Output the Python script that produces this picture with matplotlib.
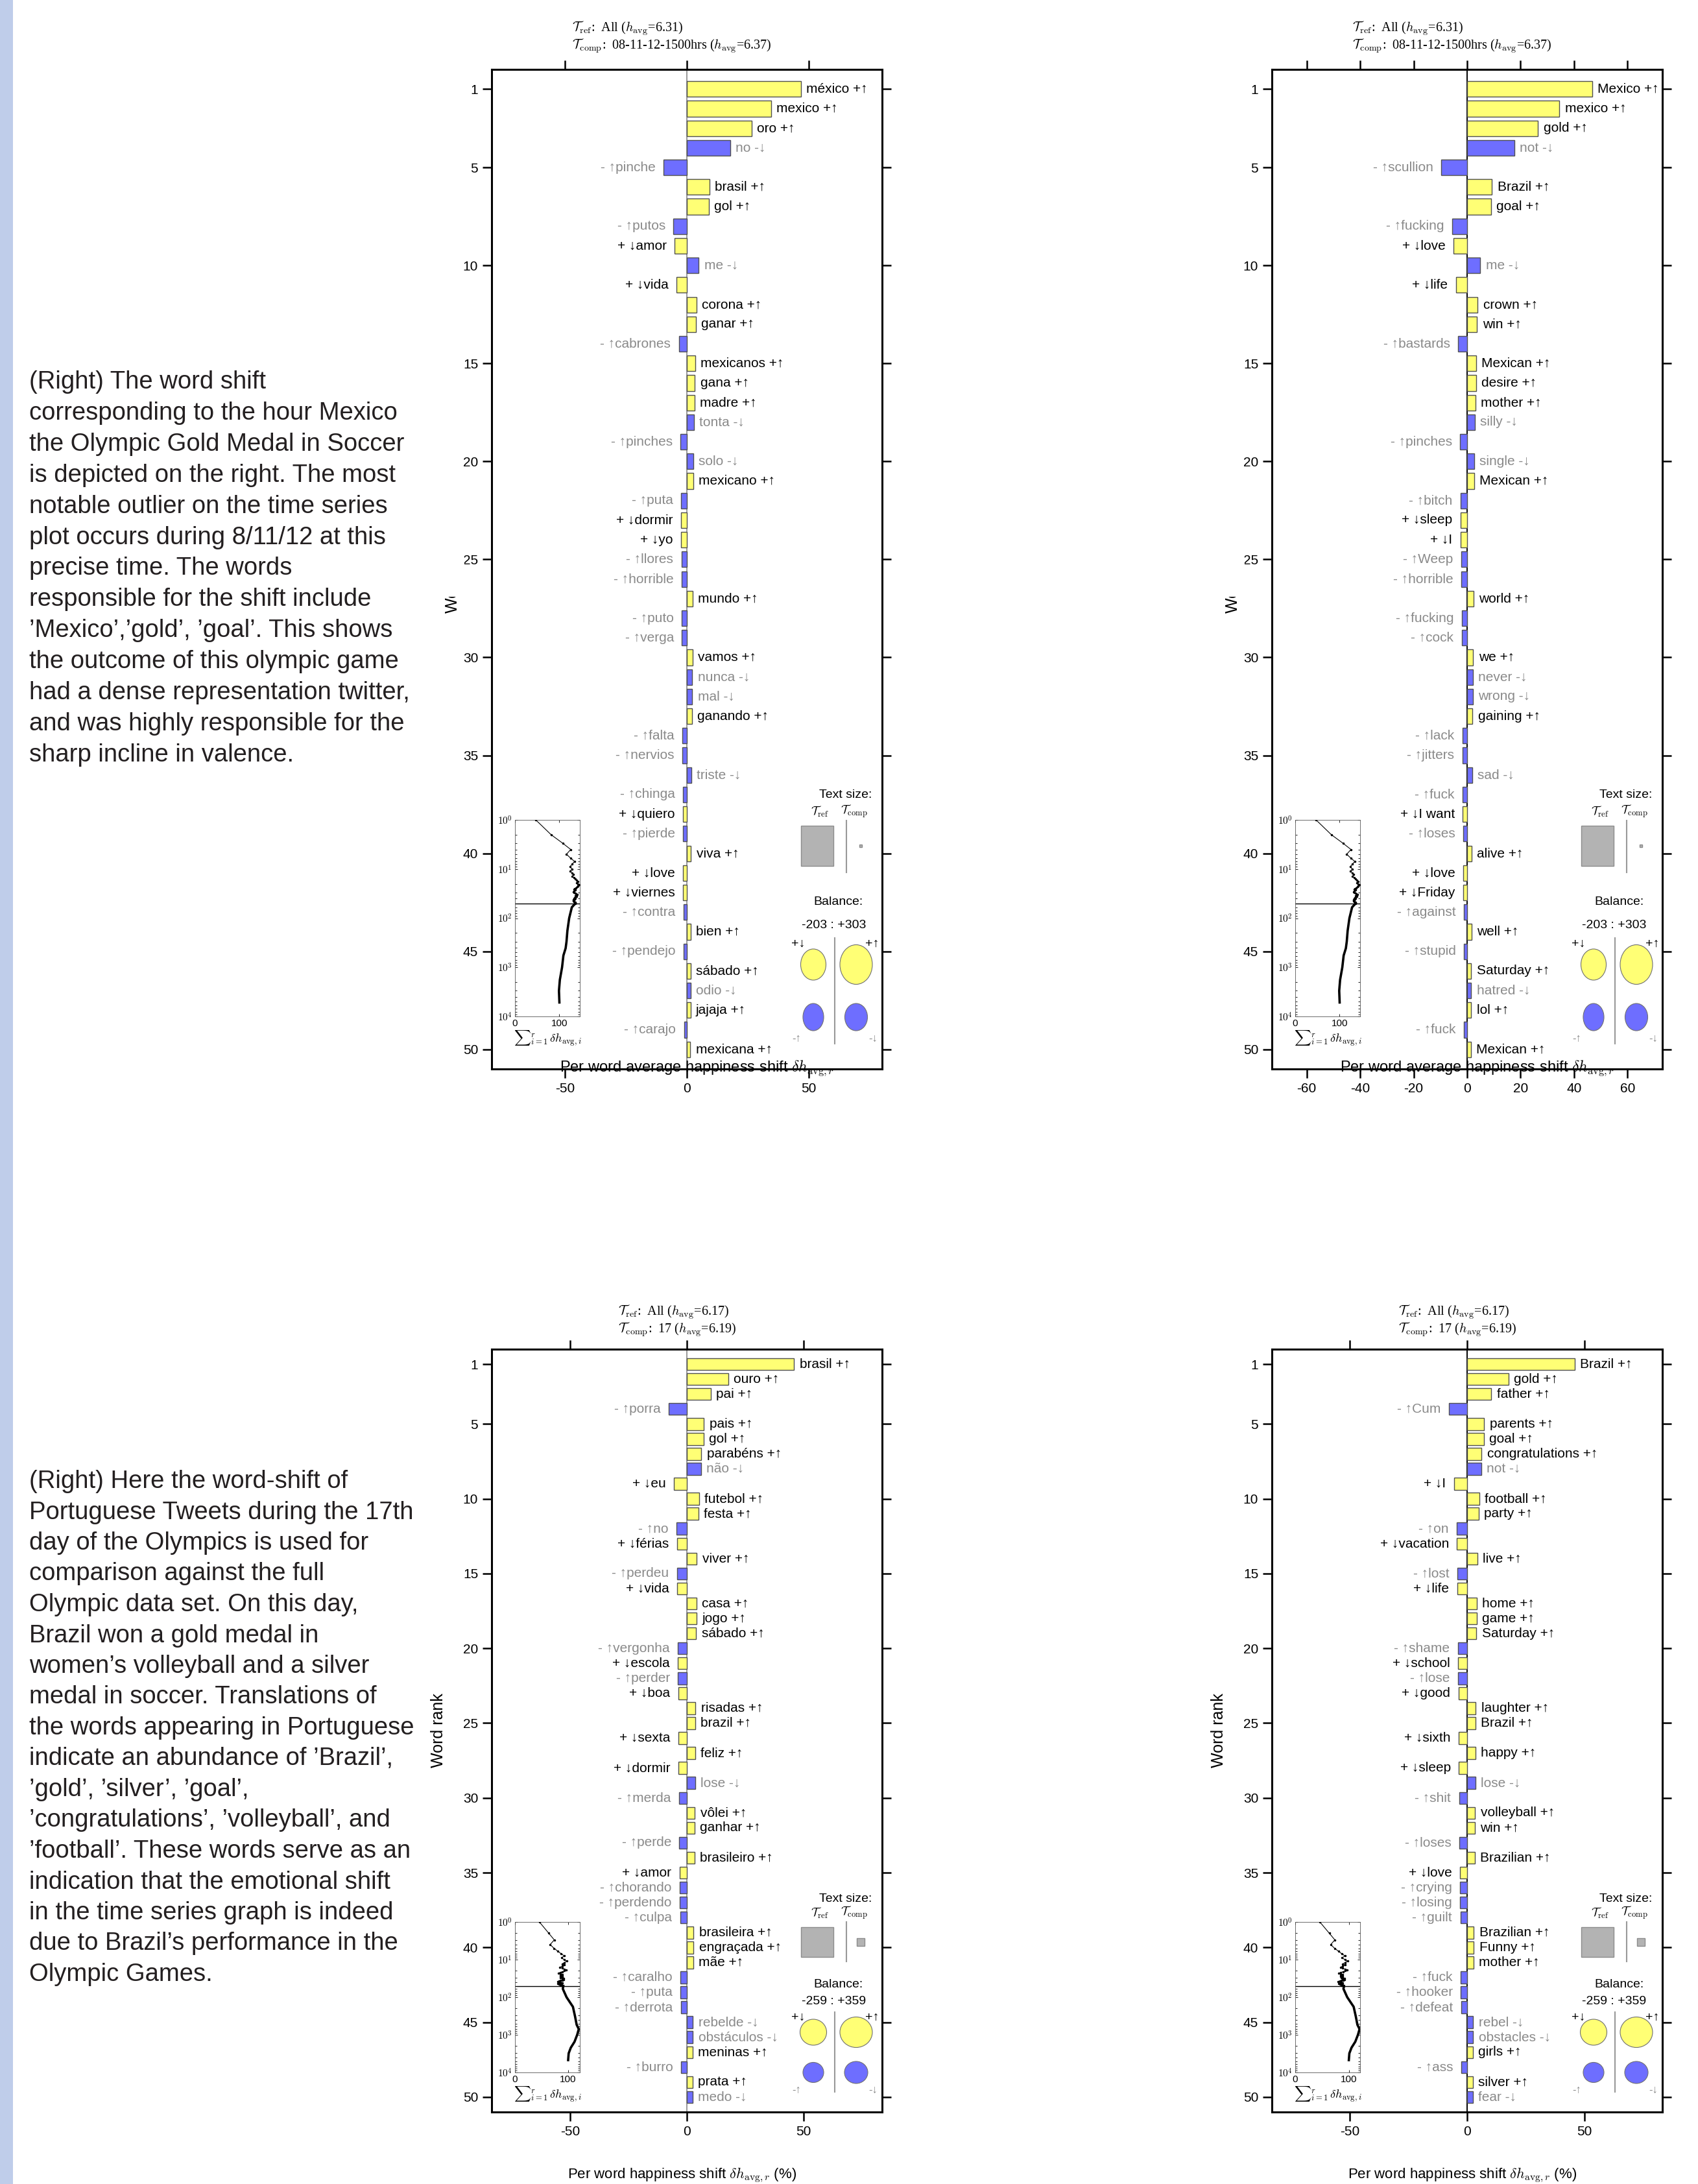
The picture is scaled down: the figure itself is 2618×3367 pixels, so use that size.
import numpy as np
import matplotlib
matplotlib.use('Agg')
import matplotlib.pyplot as plt
from matplotlib.patches import Rectangle, Ellipse

W, H, DPI = 2618, 3367, 100

plt.rcParams['font.family'] = ['Liberation Sans', 'DejaVu Sans']
plt.rcParams['mathtext.fontset'] = 'cm'

YELLOW = '#ffff75'
BLUE = '#6e6eff'
GREY = '#8a8a8a'
EDGE = '#505050'
UP, DOWN = '\u2191', '\u2193'

# ---------------- data ----------------
# top row: Mexico gold medal hour (Spanish words and their English translation)
es_words = ['méxico', 'mexico', 'oro', 'no', 'pinche', 'brasil', 'gol', 'putos', 'amor', 'me',
            'vida', 'corona', 'ganar', 'cabrones', 'mexicanos', 'gana', 'madre', 'tonta', 'pinches', 'solo',
            'mexicano', 'puta', 'dormir', 'yo', 'llores', 'horrible', 'mundo', 'puto', 'verga', 'vamos',
            'nunca', 'mal', 'ganando', 'falta', 'nervios', 'triste', 'chinga', 'quiero', 'pierde', 'viva',
            'love', 'viernes', 'contra', 'bien', 'pendejo', 'sábado', 'odio', 'jajaja', 'carajo', 'mexicana']
en_top_words = ['Mexico', 'mexico', 'gold', 'not', 'scullion', 'Brazil', 'goal', 'fucking', 'love', 'me',
                'life', 'crown', 'win', 'bastards', 'Mexican', 'desire', 'mother', 'silly', 'pinches', 'single',
                'Mexican', 'bitch', 'sleep', 'I', 'Weep', 'horrible', 'world', 'fucking', 'cock', 'we',
                'never', 'wrong', 'gaining', 'lack', 'jitters', 'sad', 'fuck', 'I want', 'loses', 'alive',
                'love', 'Friday', 'against', 'well', 'stupid', 'Saturday', 'hatred', 'lol', 'fuck', 'Mexican']
top_vals = [46.8, 34.5, 26.5, 17.7, -9.6, 9.3, 9.0, -5.5, -5.0, 4.9,
            -4.2, 4.0, 3.7, -3.3, 3.4, 3.3, 3.1, 2.9, -2.6, 2.7,
            2.7, -2.4, -2.4, -2.4, -2.2, -2.2, 2.4, -2.0, -2.0, 2.3,
            2.2, 2.2, 2.0, -1.8, -1.8, 1.9, -1.6, -1.6, -1.5, 1.7,
            -1.5, -1.5, -1.3, 1.6, -1.2, 1.5, 1.5, 1.5, -1.1, 1.4]
top_kinds = list('+++--++-+-' '+++-+++---' '+-++--+--+' '--+----+-+' '++-+-+-+-+')
top_tail_rank = [60, 100, 180, 300, 410, 575, 1000, 1800, 3000, 5200]
top_tail_cum = [128, 122, 118, 116, 114, 109, 106, 101, 99, 100]
top_titles = ('All', '6.31', '08-11-12-1500hrs', '6.37')
top_balance = '-203 : +303'

# bottom row: Portuguese tweets, day 17 (Portuguese words and translation)
pt_words = ['brasil', 'ouro', 'pai', 'porra', 'pais', 'gol', 'parabéns', 'não', 'eu', 'futebol',
            'festa', 'no', 'férias', 'viver', 'perdeu', 'vida', 'casa', 'jogo', 'sábado', 'vergonha',
            'escola', 'perder', 'boa', 'risadas', 'brazil', 'sexta', 'feliz', 'dormir', 'lose', 'merda',
            'vôlei', 'ganhar', 'perde', 'brasileiro', 'amor', 'chorando', 'perdendo', 'culpa', 'brasileira', 'engraçada',
            'mãe', 'caralho', 'puta', 'derrota', 'rebelde', 'obstáculos', 'meninas', 'burro', 'prata', 'medo']
en_bot_words = ['Brazil', 'gold', 'father', 'Cum', 'parents', 'goal', 'congratulations', 'not', 'I', 'football',
                'party', 'on', 'vacation', 'live', 'lost', 'life', 'home', 'game', 'Saturday', 'shame',
                'school', 'lose', 'good', 'laughter', 'Brazil', 'sixth', 'happy', 'sleep', 'lose', 'shit',
                'volleyball', 'win', 'loses', 'Brazilian', 'love', 'crying', 'losing', 'guilt', 'Brazilian', 'Funny',
                'mother', 'fuck', 'hooker', 'defeat', 'rebel', 'obstacles', 'girls', 'ass', 'silver', 'fear']
bot_vals = [45.9, 17.7, 10.3, -7.8, 7.3, 7.2, 6.2, 6.1, -5.6, 5.3,
            5.0, -4.5, -4.3, 4.3, -4.2, -4.2, 4.1, 4.1, 4.0, -4.0,
            -3.9, -3.8, -3.7, 3.7, 3.6, -3.6, 3.6, -3.5, 3.5, -3.4,
            3.4, 3.3, -3.2, 3.2, -3.1, -3.0, -3.0, -2.9, 2.9, 2.9,
            2.8, -2.7, -2.7, -2.6, 2.6, 2.6, 2.5, -2.5, 2.5, 2.4]
bot_kinds = list('+++-+++-++' '+-++-++++-' '+-++++++--' '++-++---++' '+-----+-+-')
bot_tail_rank = [60, 100, 180, 325, 540, 705, 1000, 1530, 2200, 3100, 4700]
bot_tail_cum = [90, 97, 109, 113, 116, 120, 117, 112, 105, 101, 100]
bot_titles = ('All', '6.17', '17', '6.19')
bot_balance = '-259 : +359'

para_top = ["(Right) The word shift",
            "corresponding to the hour Mexico",
            "the Olympic Gold Medal in Soccer",
            "is depicted on the right. The most",
            "notable outlier on the time series",
            "plot occurs during 8/11/12 at this",
            "precise time. The words",
            "responsible for the shift include",
            "\u2019Mexico\u2019,\u2019gold\u2019, \u2019goal\u2019. This shows",
            "the outcome of this olympic game",
            "had a dense representation twitter,",
            "and was highly responsible for the",
            "sharp incline in valence."]
para_bot = ["(Right) Here the word-shift of",
            "Portuguese Tweets during the 17th",
            "day of the Olympics is used for",
            "comparison against the full",
            "Olympic data set. On this day,",
            "Brazil won a gold medal in",
            "women\u2019s volleyball and a silver",
            "medal in soccer. Translations of",
            "the words appearing in Portuguese",
            "indicate an abundance of \u2019Brazil\u2019,",
            "\u2019gold\u2019, \u2019silver\u2019, \u2019goal\u2019,",
            "\u2019congratulations\u2019, \u2019volleyball\u2019, and",
            "\u2019football\u2019. These words serve as an",
            "indication that the emotional shift",
            "in the time series graph is indeed",
            "due to Brazil\u2019s performance in the",
            "Olympic Games."]

# ---------------- layout (pixels) ----------------
ROWS = {
    'top': dict(top=107, bot=1648, title=(44, 71), inset=(1264, 1567), ts=1226, tt=1251,
                sq=(1273, 1335), sqline=(1265, 1345), small=1304, small_sz=4,
                bal=1390, nums=1426, circ=(1487, 1568), cline=(1446, 1609), clab=(1455, 1601),
                cwh=[(39, 48), (50, 61), (32, 42), (35, 42)], xlab=1647, ylab_x=-360),
    'bot': dict(top=2080, bot=3256, title=(2023, 2050), inset=(2963, 3195), ts=2927, tt=2949,
                sq=(2971, 3017), sqline=(2963, 3024), small=2994, small_sz=12,
                bal=3059, nums=3086, circ=(3133, 3195), cline=(3102, 3225), clab=(3110, 3222),
                cwh=[(41, 40), (50, 47), (32, 31), (36, 34)], xlab=3353, ylab_x=-382),
}

fig = plt.figure(figsize=(W / DPI, H / DPI), dpi=DPI)


def px_axes(x0, y0, x1, y1):
    return fig.add_axes([x0 / W, 1 - y1 / H, (x1 - x0) / W, (y1 - y0) / H])


panels = []


def panel(x0, row, words, vals, kinds, xlim, xticks, zero_col, titles, balance,
          tail_r, tail_c, inset_xmax):
    g = ROWS[row]
    ax = px_axes(x0 - 300, g['top'], x0 + 302, g['bot'])
    ranks = np.arange(1, len(vals) + 1)
    cols = [YELLOW if k == '+' else BLUE for k in kinds]
    ax.barh(ranks, vals, height=0.8, color=cols, edgecolor=EDGE, linewidth=1.0, zorder=2)
    ax.axvline(0, color=zero_col, lw=1.4, zorder=1)
    for r, w, v, k in zip(ranks, words, vals, kinds):
        tc = 'black' if k == '+' else GREY
        if v > 0:
            s = f'{w} {k}' + (UP if k == '+' else DOWN)
            ax.annotate(s, (v, r), xytext=(6, 0), textcoords='offset points',
                        ha='left', va='center', fontsize=15, color=tc)
        else:
            s = f'{k} ' + (DOWN if k == '+' else UP) + w
            ax.annotate(s, (v, r), xytext=(-9, 0), textcoords='offset points',
                        ha='right', va='center', fontsize=15, color=tc)
    ax.set_xlim(-xlim, xlim)
    ax.set_ylim(51, 0)
    ax.set_yticks([1] + list(range(5, 51, 5)))
    ax.set_xticks(xticks)
    ax.set_xticklabels([str(t) for t in xticks])
    ax.tick_params(direction='out', length=10, width=1.8, labelsize=15, top=True, right=True,
                   labeltop=False, labelright=False, pad=5)
    for s in ax.spines.values():
        s.set_linewidth(2.2)

    # cumulative inset: running sum of the shifts against word rank
    iy0, iy1 = g['inset']
    ins = px_axes(x0 - 264, iy0, x0 - 164, iy1)
    head = np.cumsum(vals)
    ins.plot(head, ranks, color='black', lw=0.8, marker='.', ms=3, zorder=3)
    ins.plot([head[-1]] + tail_c, [ranks[-1]] + tail_r, color='black', lw=2.6, zorder=3)
    ins.axhline(len(vals), color='black', lw=1.0)
    ins.set_yscale('log')
    ins.set_ylim(1e4, 1)
    ins.set_xlim(0, inset_xmax)
    ins.set_yticks([1, 10, 100, 1000, 10000])
    ins.set_yticklabels([r'$10^{%d}$' % i for i in range(5)])
    ins.set_xticks([0, 100])
    ins.tick_params(axis='both', which='both', direction='in', labelsize=11, right=True, top=True,
                    length=3, width=0.6, pad=3)
    ins.tick_params(axis='y', which='minor', length=2)
    ins.set_xlabel(r'${\sum}_{i=1}^{r}\,\delta h_{{\rm avg},i}$', fontsize=13, labelpad=1)
    for s in ins.spines.values():
        s.set_linewidth(0.6)
        s.set_color('#555555')
    panels.append((x0, row, titles, balance))


panel(1058, 'top', es_words, top_vals, top_kinds, 80.1, [-50, 0, 50], '#999999',
      top_titles, top_balance, top_tail_rank, top_tail_cum, 146)
panel(2261, 'top', en_top_words, top_vals, top_kinds, 73, [-60, -40, -20, 0, 20, 40, 60], 'black',
      top_titles, top_balance, top_tail_rank, top_tail_cum, 146)
panel(1058, 'bot', pt_words, bot_vals, bot_kinds, 83.6, [-50, 0, 50], '#999999',
      bot_titles, bot_balance, bot_tail_rank, bot_tail_cum, 122)
panel(2261, 'bot', en_bot_words, bot_vals, bot_kinds, 83.3, [-50, 0, 50], 'black',
      bot_titles, bot_balance, bot_tail_rank, bot_tail_cum, 121)

# overlay in pixel coordinates for the text, legends and margin
ov = fig.add_axes([0, 0, 1, 1])
ov.set_xlim(0, W)
ov.set_ylim(H, 0)
ov.axis('off')
ov.patch.set_alpha(0)

ov.add_patch(Rectangle((0, 0), 20, H, color='#bfcdea', lw=0))
for i, line in enumerate(para_top):
    ov.text(45, 599 + i * 47.9, line, fontsize=27.5, color='#231f20', va='baseline')
for i, line in enumerate(para_bot):
    ov.text(45, 2294 + i * 47.5, line, fontsize=27.5, color='#231f20', va='baseline')

for x0, row, titles, balance in panels:
    g = ROWS[row]
    tx = x0 - 176 if row == 'top' else x0 - 105
    ref, href, comp, hcomp = titles
    ov.text(tx, g['title'][0], r'$\mathcal{T}_{\rm ref}$:  %s ($h_{\rm avg}$=%s)' % (ref, href),
            fontsize=14.5, family='Liberation Serif', va='center')
    ov.text(tx, g['title'][1], r'$\mathcal{T}_{\rm comp}$:  %s ($h_{\rm avg}$=%s)' % (comp, hcomp),
            fontsize=14.5, family='Liberation Serif', va='center')

    # axis labels
    if row == 'top':
        ov.text(x0 + 17, g['xlab'], r'Per word average happiness shift $\delta h_{{\rm avg},r}$',
                fontsize=17, ha='center', va='center')
        ov.text(x0 + g['ylab_x'], 945, 'Word rank', fontsize=18, rotation=90,
                ha='center', va='bottom')
        # only the first letter of this label shows in the original
        ov.add_patch(Rectangle((x0 + g['ylab_x'] - 18, 760), 36, 160, fc='white', ec='none', zorder=5))
    else:
        ov.text(x0 - 6, g['xlab'], r'Per word happiness shift $\delta h_{{\rm avg},r}$ (%)',
                fontsize=16, ha='center', va='center')
        ov.text(x0 + g['ylab_x'], (g['top'] + g['bot']) / 2, 'Word rank', fontsize=18,
                rotation=90, ha='center', va='center')

    # text size legend
    ov.text(x0 + 246, g['ts'], 'Text size:', fontsize=14, ha='center', va='center')
    ov.text(x0 + 206, g['tt'], r'$\mathcal{T}_{\rm ref}$', fontsize=13, ha='center', va='center')
    ov.text(x0 + 259, g['tt'], r'$\mathcal{T}_{\rm comp}$', fontsize=13, ha='center', va='center')
    sy0, sy1 = g['sq']
    ov.add_patch(Rectangle((x0 + 177, sy0), 50, sy1 - sy0, fc='#b3b3b3', ec='#8c8c8c', lw=1))
    ov.plot([x0 + 247, x0 + 247], g['sqline'], color='#999999', lw=1.5)
    ss = g['small_sz']
    ov.add_patch(Rectangle((x0 + 269 - ss / 2, g['small'] - ss / 2), ss, ss,
                           fc='#b3b3b3', ec='#8c8c8c', lw=1))

    # balance legend
    ov.text(x0 + 235, g['bal'], 'Balance:', fontsize=14, ha='center', va='center')
    ov.text(x0 + 228, g['nums'], balance, fontsize=14, ha='center', va='center')
    cy_up, cy_lo = g['circ']
    centres = [(x0 + 196, cy_up), (x0 + 262, cy_up), (x0 + 196, cy_lo), (x0 + 262, cy_lo)]
    for (cx, cy), (cw, ch), fc in zip(centres, g['cwh'], [YELLOW, YELLOW, BLUE, BLUE]):
        ov.add_patch(Ellipse((cx, cy), cw, ch, fc=fc, ec='#707070', lw=0.8))
    ov.plot([x0 + 229, x0 + 229], g['cline'], color='#999999', lw=1.5)
    ly_up, ly_lo = g['clab']
    ov.text(x0 + 173, ly_up, '+' + DOWN, fontsize=14, ha='center', va='center')
    ov.text(x0 + 287, ly_up, '+' + UP, fontsize=14, ha='center', va='center')
    ov.text(x0 + 170, ly_lo, '-' + UP, fontsize=12, ha='center', va='center', color=GREY)
    ov.text(x0 + 288, ly_lo, '-' + DOWN, fontsize=12, ha='center', va='center', color=GREY)

fig.savefig('out.png', dpi=DPI)
